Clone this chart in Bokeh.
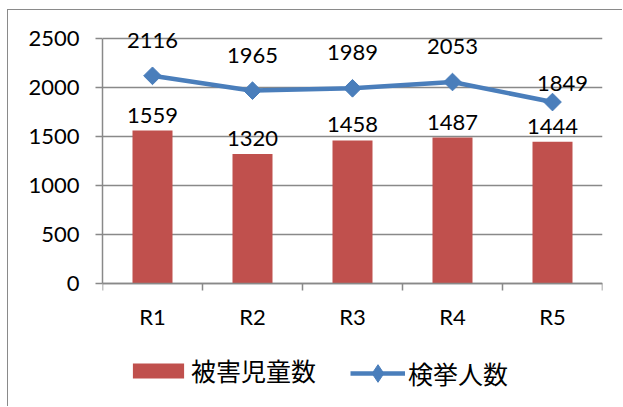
from bokeh.plotting import figure
from bokeh.models import (ColumnDataSource, FixedTicker, LabelSet, Legend, LegendItem, Range1d)
from bokeh.core.properties import value
from bokeh.embed import file_html
from bokeh.resources import INLINE
import math

categories = ["R1", "R2", "R3", "R4", "R5"]
victims = [1559, 1320, 1458, 1487, 1444]       # 被害児童数
arrests = [2116, 1965, 1989, 2053, 1849]       # 検挙人数
y_ticks = [0, 500, 1000, 1500, 2000, 2500]

xpos = [i + 0.5 for i in range(len(categories))]
# label offsets (style)
arrest_dx = [0, 0, 0, 0, 10]
arrest_dy = [28, 28, 28, 28, 11]

src = ColumnDataSource(dict(
    x=xpos, victims=victims, arrests=arrests,
    vlab=[str(v) for v in victims], alab=[str(v) for v in arrests],
    adx=arrest_dx, ady=arrest_dy,
))

FONT = "Lato"
CJK = "Noto Sans CJK JP"
GRAY = "#898989"
BLUE = "#4a7ebb"

p = figure(width=614, height=396, output_backend="svg", toolbar_location=None,
           x_range=Range1d(0, 5), y_range=Range1d(-1252.5, 2700),
           frame_width=500, frame_height=388,
           min_border_left=94, min_border_top=8, min_border_right=20, min_border_bottom=0)
p.outline_line_color = None
p.styles = {"margin-left": "7px", "margin-top": "9px",
            "border-left": "1px solid #8a8a8a", "border-top": "1px solid #8a8a8a"}

bars = p.vbar(x="x", top="victims", width=0.4, source=src, color="#c0504d", line_color=None)
line = p.line(x="x", y="arrests", source=src, line_color=BLUE, line_width=4.5)
marks = p.scatter(x="x", y="arrests", source=src, marker="square", size=12.5,
                  angle=math.pi / 4, color=BLUE)
# diamond used for the legend swatch (tiny, hidden under the plotted markers)
leg_diamond = p.scatter(x="x", y="arrests", source=src, marker="diamond", size=1, color=BLUE)

# axes
p.xaxis.fixed_location = 0
p.xaxis.ticker = FixedTicker(ticks=xpos, minor_ticks=[0, 1, 2, 3, 4, 5])
p.xaxis.major_label_overrides = {x: c for x, c in zip(xpos, categories)}
p.xaxis.major_tick_out = 0
p.xaxis.major_tick_in = 0
p.xaxis.minor_tick_out = 7
p.xaxis.minor_tick_in = 0
p.xaxis.minor_tick_line_color = GRAY
p.xaxis.minor_tick_line_width = 1.5
p.xaxis.major_label_standoff = 12
p.xaxis.bounds = (0, 5)

p.yaxis.ticker = FixedTicker(ticks=y_ticks)
p.yaxis.bounds = (0, 2500)
p.yaxis.major_tick_out = 7
p.yaxis.major_tick_in = 0
p.yaxis.minor_tick_out = 0
p.yaxis.minor_tick_in = 0
p.yaxis.major_label_standoff = 16
p.yaxis.major_tick_line_color = GRAY
p.yaxis.major_tick_line_width = 1.5

for ax in (p.xaxis, p.yaxis):
    ax.axis_line_color = GRAY
    ax.axis_line_width = 1.5
    ax.major_label_text_font = FONT
    ax.major_label_text_font_size = "22px"
    ax.major_label_text_color = "#000000"

p.xgrid.grid_line_color = None
p.ygrid.ticker = FixedTicker(ticks=y_ticks)
p.ygrid.grid_line_color = GRAY
p.ygrid.grid_line_width = 1.5

# data labels
p.add_layout(LabelSet(x="x", y="victims", text="vlab", source=src, y_offset=8,
                      text_align="center", text_baseline="alphabetic",
                      text_font=value(FONT), text_font_size=value("22px"), text_color="#000000"))
p.add_layout(LabelSet(x="x", y="arrests", text="alab", source=src, x_offset="adx", y_offset="ady",
                      text_align="center", text_baseline="alphabetic",
                      text_font=value(FONT), text_font_size=value("22px"), text_color="#000000"))

common = dict(orientation="horizontal", padding=0, margin=0, border_line_color=None,
              background_fill_alpha=0, label_text_font=CJK, label_text_font_size="25px",
              label_text_color="#000000")
legend_bar = Legend(items=[LegendItem(label="被害児童数", renderers=[bars])],
                    location=(24, 18), glyph_width=64, glyph_height=19, label_standoff=1, **common)
legend_line = Legend(items=[LegendItem(label="検挙人数", renderers=[line, leg_diamond])],
                     location=(248, 11), glyph_width=55, glyph_height=44, label_standoff=3, **common)
p.add_layout(legend_bar, "center")
p.add_layout(legend_line, "center")

open("out.html", "w").write(file_html(p, INLINE))
